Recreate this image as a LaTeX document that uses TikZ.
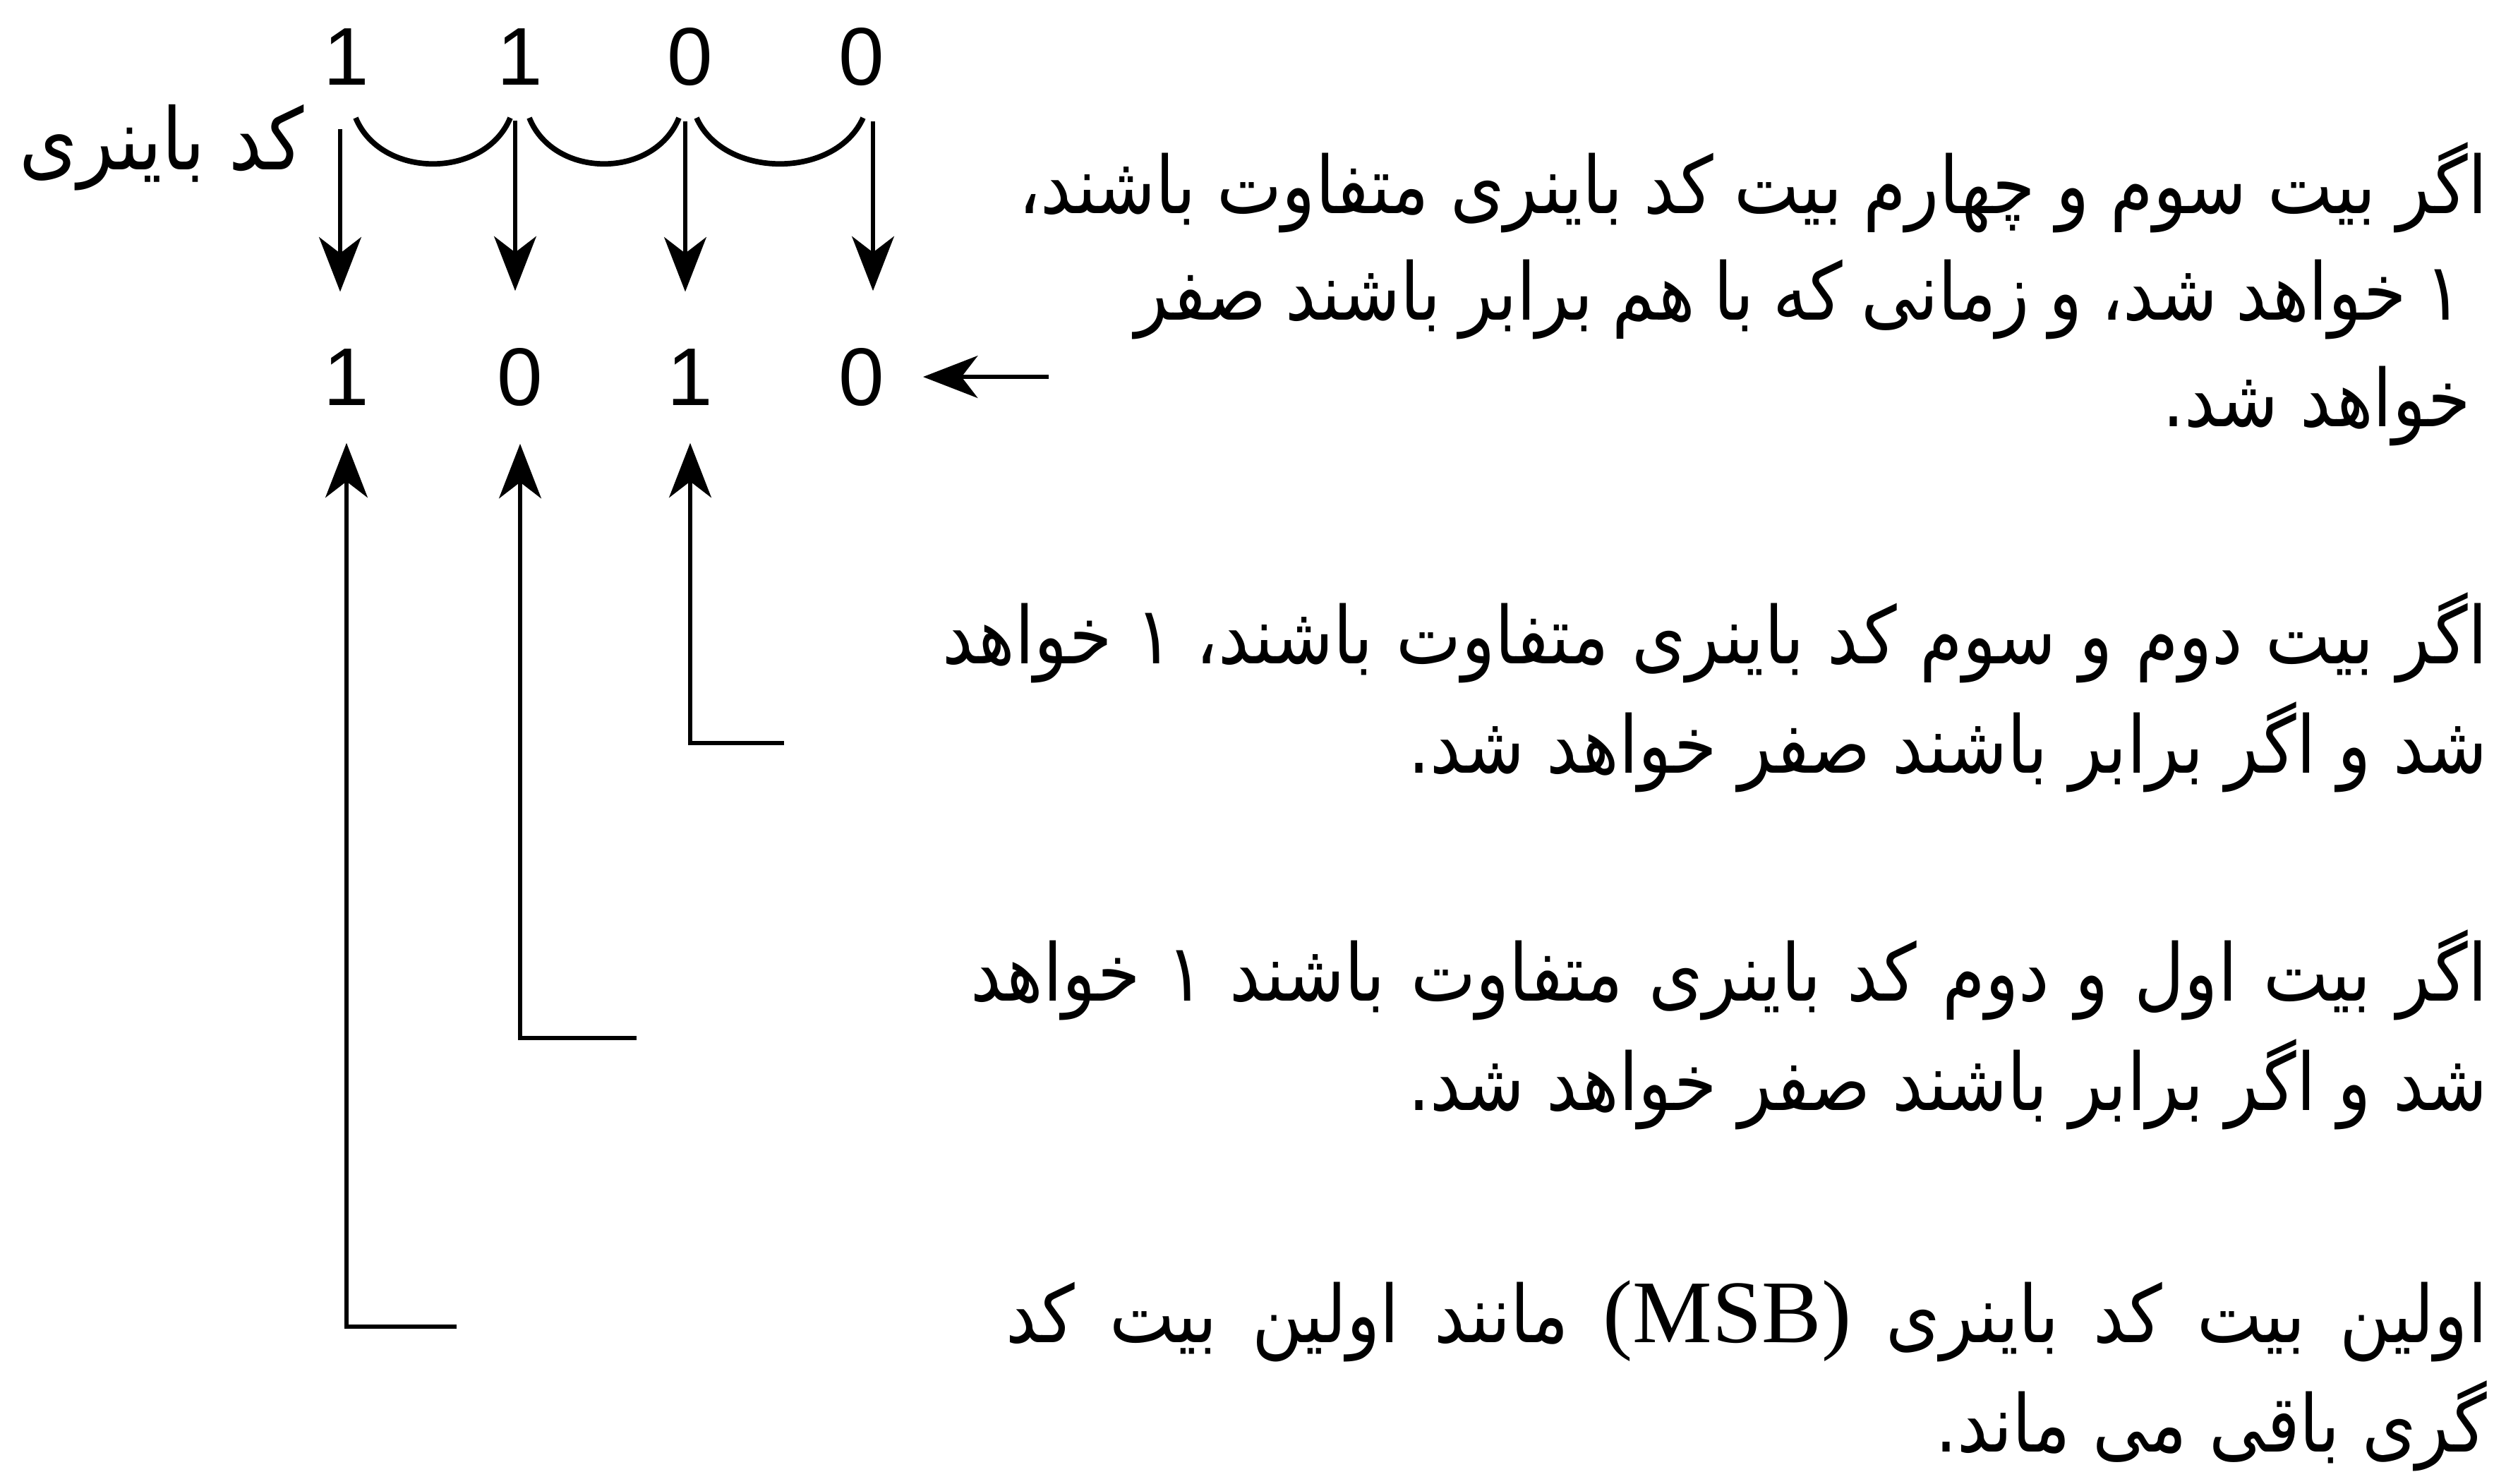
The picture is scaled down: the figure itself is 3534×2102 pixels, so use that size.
\documentclass[tikz,border=0pt]{standalone}
\usepackage{fontspec}
\usetikzlibrary{arrows.meta}
\TeXXeTstate=1
\newfontfamily\fatext[Script=Arabic, FakeStretch=0.87]{DejaVu Sans}
\newfontfamily\digitfont{Liberation Sans}
\newfontfamily\msbfont{Liberation Serif}
\newcommand{\fasize}{\fontsize{32pt}{38pt}\selectfont}
\tikzset{
  bit/.style={anchor=base, inner sep=0pt, font=\digitfont\fontsize{33pt}{40pt}\selectfont},
  txt/.style={anchor=base east, inner sep=0pt, font=\fatext\fasize},
  arr/.style={line width=1.6pt, -{Stealth[length=22pt, width=17pt, inset=6.5pt]}},
  curl/.style={line width=2.2pt},
}
\begin{document}
\begin{tikzpicture}[x=0.01cm, y=-0.01cm]
\path[fill=white] (0,0) rectangle (3534,2102);
\useasboundingbox (0,0) rectangle (3534,2102);

% top binary digits
\node[bit] (t1) at (491,120) {1};
\node[bit] (t2) at (737,120) {1};
\node[bit] (t3) at (978,120) {0};
\node[bit] (t4) at (1221,120) {0};
% bottom gray digits
\node[bit] (b1) at (491,574) {1};
\node[bit] (b2) at (737,574) {0};
\node[bit] (b3) at (978,574) {1};
\node[bit] (b4) at (1221,574) {0};

% label
\node[txt, font=\fatext\fontsize{34.5pt}{40pt}\selectfont] (lbl) at (431,240) {\beginR کد باینری\endR};

% down arrows
\draw[arr, shorten <=0.62cm, shorten >=0.8cm] ([xshift=-0.09cm]t1.south) -- ([xshift=-0.09cm]b1.north);
\draw[arr, shorten <=0.5cm, shorten >=0.8cm] ([xshift=-0.07cm]t2.south) -- ([xshift=-0.07cm]b2.north);
\draw[arr, shorten <=0.5cm, shorten >=0.8cm] ([xshift=-0.07cm]t3.south) -- ([xshift=-0.07cm]b3.north);
\draw[arr, shorten <=0.5cm, shorten >=0.8cm] ([xshift=0.16cm]t4.south) -- ([xshift=0.16cm]b4.north);

% XOR curls
\coordinate (a1s) at (504,167); \coordinate (a1e) at (723,167);
\coordinate (a2s) at (750,167); \coordinate (a2e) at (962,167);
\coordinate (a3s) at (987,167); \coordinate (a3e) at (1223,167);
\draw[curl] (a1s) .. controls (540,254) and (687,254) .. (a1e);
\draw[curl] (a2s) .. controls (785,254) and (927,254) .. (a2e);
\draw[curl] (a3s) .. controls (1026,254) and (1184,254) .. (a3e);

% arrow into the last gray bit
\coordinate (lin) at ([xshift=2.32cm]b4.east);
\draw[arr, shorten >=0.54cm] (lin) -- (b4.east);

% up arrows from explanations
\coordinate (h3) at (1111,1053);
\coordinate (h2) at (902,1471);
\coordinate (h1) at (647,1880);
\draw[arr, shorten >=0.53cm] (h3) -| (b3.south);
\draw[arr, shorten >=0.53cm] (h2) -| (b2.south);
\draw[arr, shorten >=0.53cm] (h1) -| (b1.south);

% explanation texts
\node[txt] (p1a) at (3525,302) {\makebox[20.8cm][s]{\beginR اگر بیت سوم و چهارم بیت کد باینری متفاوت باشند،\endR}};
\node[txt] (p1b) at (3490,453) {\makebox[18.8cm][s]{\beginR ۱ خواهد شد، و زمانی که با هم برابر باشند صفر\endR}};
\node[txt] (p1c) at (3502,604) {\beginR خواهد شد.\endR};

\node[txt] (p2a) at (3525,940) {\makebox[21.88cm][s]{\beginR اگر بیت دوم و سوم کد باینری متفاوت باشند، ۱ خواهد\endR}};
\node[txt] (p2b) at (3525,1095) {\beginR شد و اگر برابر باشند صفر خواهد شد.\endR};

\node[txt] (p3a) at (3525,1418) {\makebox[21.48cm][s]{\beginR اگر بیت اول و دوم کد باینری متفاوت باشند ۱ خواهد\endR}};
\node[txt] (p3b) at (3525,1573) {\beginR شد و اگر برابر باشند صفر خواهد شد.\endR};

\node[txt] (p4a) at (3525,1902) {\makebox[20.98cm][s]{\beginR اولین بیت کد باینری \beginL{\msbfont\fontsize{36pt}{40pt}\selectfont(MSB)}\endL{} مانند اولین بیت کد\endR}};
\node[txt] (p4b) at (3525,2057) {\beginR گری باقی می ماند.\endR};
\end{tikzpicture}
\end{document}
